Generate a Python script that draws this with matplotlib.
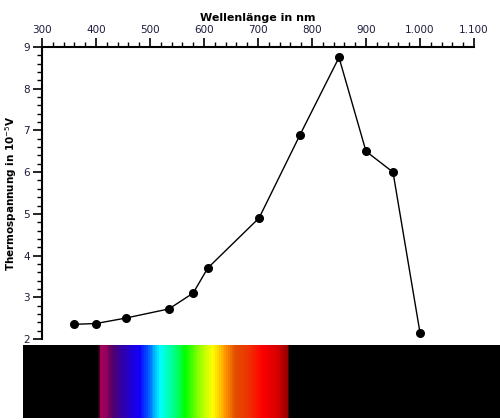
import numpy as np
import matplotlib.pyplot as plt
from matplotlib.colors import LinearSegmentedColormap
from matplotlib.ticker import MultipleLocator, FuncFormatter

# Messwerte
wellenlaenge = [360, 400, 455, 535, 580, 607, 702, 778, 850, 900, 950, 1000]
spannung = [2.35, 2.37, 2.5, 2.72, 3.1, 3.7, 4.9, 6.9, 8.75, 6.5, 6.0, 2.15]

# Spektrum-Streifen (Wellenlaenge in nm -> Farbe)
spek_wl = [265, 403, 406, 417, 428, 448, 480, 495, 519, 546, 565, 594, 617, 641, 658, 685, 709, 740, 756, 760, 1150]
spek_farbe = ['#000000', '#000000', '#a8005a', '#98005e', '#5a0062', '#3000a8', '#1000ff', '#0050ff', '#00ffff',
              '#00ff80', '#00ff00', '#a0ff00', '#ffff00', '#ff9000', '#e05000', '#f03000',
              '#ff0000', '#d00000', '#900000', '#000000', '#000000']

tickfarbe = '#1c1c3c'

fig = plt.figure(figsize=(5, 4.2), dpi=100)
ax = fig.add_axes([0.084, 0.193, 0.864, 0.695])

ax.plot(wellenlaenge, spannung, color='black', lw=1, marker='o', ms=5.5)
ax.set_xlim(300, 1100)
ax.set_ylim(2, 9)

for s in ['right', 'bottom']:
    ax.spines[s].set_visible(False)
for s in ['left', 'top']:
    ax.spines[s].set_linewidth(1.5)

ax.xaxis.set_ticks_position('top')
ax.xaxis.set_label_position('top')
ax.xaxis.set_major_locator(MultipleLocator(100))
ax.xaxis.set_minor_locator(MultipleLocator(20))
ax.yaxis.set_major_locator(MultipleLocator(1))
ax.yaxis.set_minor_locator(MultipleLocator(0.2))
ax.xaxis.set_major_formatter(FuncFormatter(lambda v, p: f"{int(v):,}".replace(",", ".")))
ax.yaxis.set_major_formatter(FuncFormatter(lambda v, p: f"{int(v)}"))

ax.tick_params(which='major', length=6.5, width=1.2, labelsize=7.5, labelcolor=tickfarbe, pad=2)
ax.tick_params(which='minor', length=3.5, width=1.0)

ax.set_xlabel('Wellenlänge in nm', fontsize=8, fontweight='bold', labelpad=3)
ax.set_ylabel('Thermospannung in 10$^{-5}$V', fontsize=7.5, fontweight='bold', labelpad=3)

# Spektrum unten
ax2 = fig.add_axes([0.046, 0.005, 0.954, 0.174])
pos = [(w - spek_wl[0]) / (spek_wl[-1] - spek_wl[0]) for w in spek_wl]
cmap = LinearSegmentedColormap.from_list('spektrum', list(zip(pos, spek_farbe)))
grad = np.linspace(spek_wl[0], spek_wl[-1], 1200).reshape(1, -1)
ax2.imshow(grad, cmap=cmap, aspect='auto', interpolation='nearest',
           extent=[spek_wl[0], spek_wl[-1], 0, 1], vmin=spek_wl[0], vmax=spek_wl[-1])
ax2.set_axis_off()

fig.savefig('out.png', dpi=100)
